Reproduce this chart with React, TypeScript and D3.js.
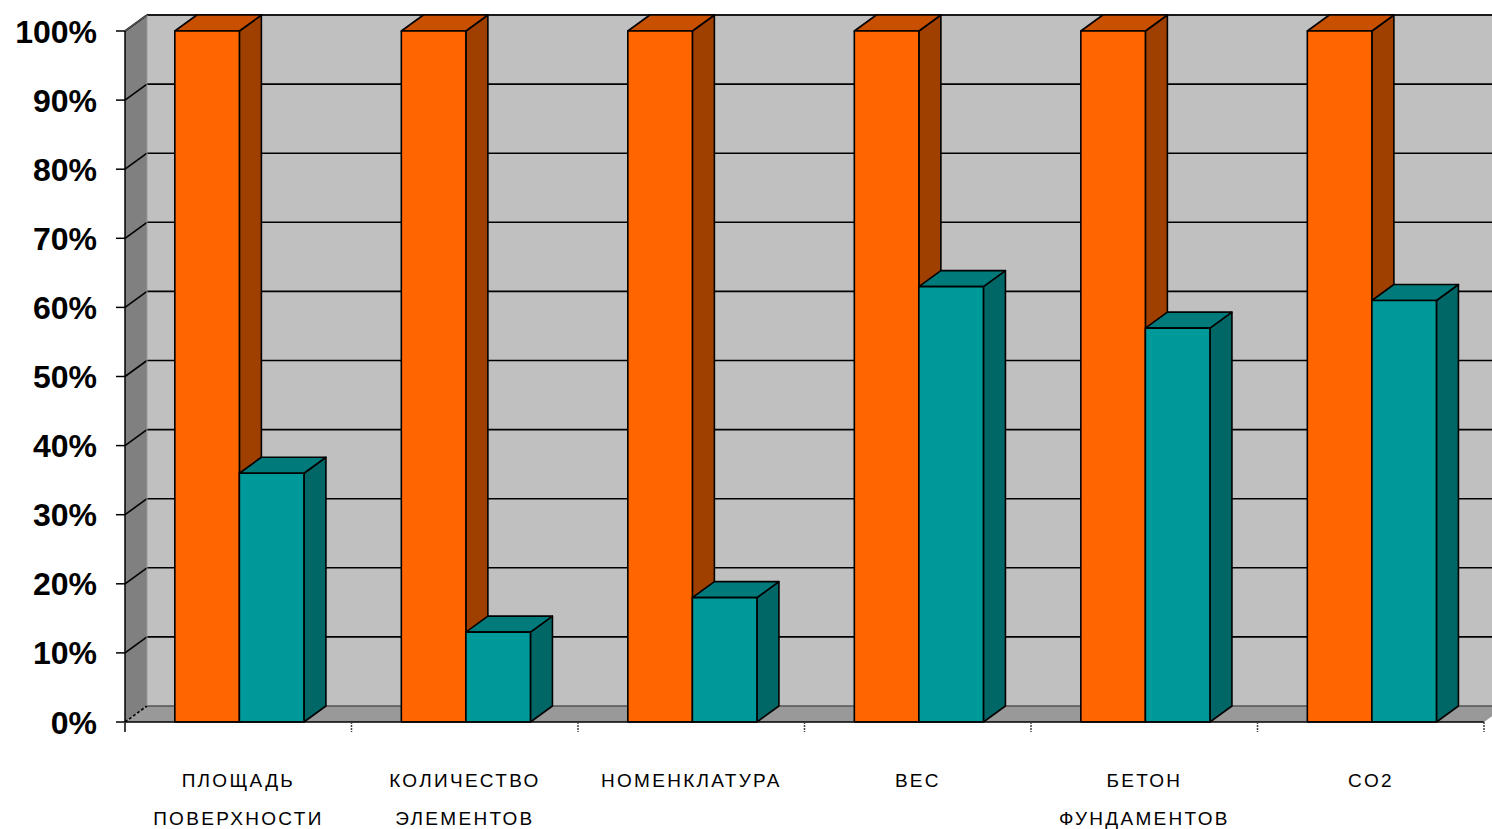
import React from "react";
import * as d3 from "d3";

const categories: string[][] = [
  ["ПЛОЩАДЬ", "ПОВЕРХНОСТИ"],
  ["КОЛИЧЕСТВО", "ЭЛЕМЕНТОВ"],
  ["НОМЕНКЛАТУРА"],
  ["ВЕС"],
  ["БЕТОН", "ФУНДАМЕНТОВ"],
  ["CO2"],
];
const seriesA: number[] = [100, 100, 100, 100, 100, 100];
const seriesB: number[] = [36, 13, 18, 63, 57, 61];
const yTicks: number[] = [0, 10, 20, 30, 40, 50, 60, 70, 80, 90, 100];

const W = 1492;
const H = 829;
const X0 = 125;
const X1 = 1484;
const Y0 = 722;
const Y1 = 31;
const DX = 22;
const DY = -16;

const colA = { front: "#FF6600", top: "#C85000", side: "#A04000" };
const colB = { front: "#009999", top: "#007A7A", side: "#006666" };

function Box({ x, w, y0, y1, c }: { x: number; w: number; y0: number; y1: number; c: any }) {
  const pts = (a: number[][]) => a.map((p) => p.join(",")).join(" ");
  return (
    <g stroke="#000" strokeWidth={1.6} strokeLinejoin="round">
      <polygon points={pts([[x + w, y1], [x + w + DX, y1 + DY], [x + w + DX, y0 + DY], [x + w, y0]])} fill={c.side} />
      <polygon points={pts([[x, y1], [x + DX, y1 + DY], [x + w + DX, y1 + DY], [x + w, y1]])} fill={c.top} />
      <rect x={x} y={y1} width={w} height={y0 - y1} fill={c.front} />
    </g>
  );
}

export default function App() {
  const y = d3.scaleLinear().domain([0, 100]).range([Y0, Y1]);
  const xb = d3.scaleBand<number>().domain(d3.range(categories.length)).range([X0, X1]);
  const bw = xb.bandwidth();
  const barW = bw * 0.285;
  const off = bw * 0.22;

  return (
    <svg width={W} height={H} style={{ position: "absolute", left: 0, top: 0, background: "#fff" }} fontFamily="'Liberation Sans', Arial, sans-serif">
      {/* back wall */}
      <rect x={X0 + DX} y={y(100) + DY} width={W} height={y(0) - y(100)} fill="#C0C0C0" />
      <line x1={X0 + DX} x2={W} y1={y(100) + DY} y2={y(100) + DY} stroke="#666" strokeWidth={2} />
      {/* side wall */}
      <polygon
        points={`${X0},${y(0)} ${X0 + DX},${y(0) + DY} ${X0 + DX},${y(100) + DY} ${X0},${y(100)}`}
        fill="#808080"
      />
      {/* floor */}
      <polygon
        points={`${X0},${y(0)} ${X1},${y(0)} ${X1 + DX},${y(0) + DY} ${X0 + DX},${y(0) + DY}`}
        fill="#999999"
      />
      {/* gridlines */}
      {yTicks.map((t) => (
        <g key={t} stroke="#000" strokeWidth={1.6}>
          {t > 0 && <line x1={X0 + DX} x2={W} y1={y(t) + DY} y2={y(t) + DY} />}
          {t > 0 && <line x1={X0} x2={X0 + DX} y1={y(t)} y2={y(t) + DY} />}
          {t === 0 && <line x1={X0 + DX} x2={W} y1={y(t) + DY} y2={y(t) + DY} stroke="#555" />}
          {t === 0 && <line x1={X0} x2={X0 + DX} y1={y(t)} y2={y(t) + DY} strokeDasharray="3,2" />}
        </g>
      ))}
      <line x1={X0 + DX} x2={X0 + DX} y1={y(100) + DY} y2={y(0) + DY} stroke="#999" strokeWidth={1} />
      <line x1={X0} x2={X0 + DX} y1={y(100)} y2={y(100) + DY} stroke="#555" strokeWidth={1.5} />
      {/* bars */}
      {categories.map((_, i) => {
        const xa = (xb(i) as number) + off;
        return (
          <g key={i}>
            <Box x={xa} w={barW} y0={y(0)} y1={y(seriesA[i])} c={colA} />
            <Box x={xa + barW} w={barW} y0={y(0)} y1={y(seriesB[i])} c={colB} />
          </g>
        );
      })}
      {/* axes */}
      <line x1={X0} x2={X0} y1={y(100)} y2={y(0) + 10} stroke="#000" strokeWidth={1.5} />
      <line x1={X0} x2={X1} y1={y(0)} y2={y(0)} stroke="#000" strokeWidth={1.5} />
      {yTicks.map((t) => (
        <g key={t}>
          <line x1={X0 - 9} x2={X0} y1={y(t)} y2={y(t)} stroke="#000" strokeWidth={1.5} />
          <text x={97} y={y(t)} dy="0.36em" textAnchor="end" fontSize={32} fontWeight="bold" fill="#000">
            {t}%
          </text>
        </g>
      ))}
      {d3.range(categories.length + 1).map((i) => {
        const xx = X0 + i * bw;
        return <line key={i} x1={xx} x2={xx} y1={y(0)} y2={y(0) + 10} stroke="#444" strokeWidth={1.5} strokeDasharray="2,1" />;
      })}
      {categories.map((lines, i) => {
        const cx = (xb(i) as number) + off + barW - 1;
        return (
          <text key={i} textAnchor="middle" fontSize={19} letterSpacing={2.3} fill="#000">
            {lines.map((l, j) => (
              <tspan key={j} x={cx} y={787 + j * 38}>
                {l}
              </tspan>
            ))}
          </text>
        );
      })}
    </svg>
  );
}
